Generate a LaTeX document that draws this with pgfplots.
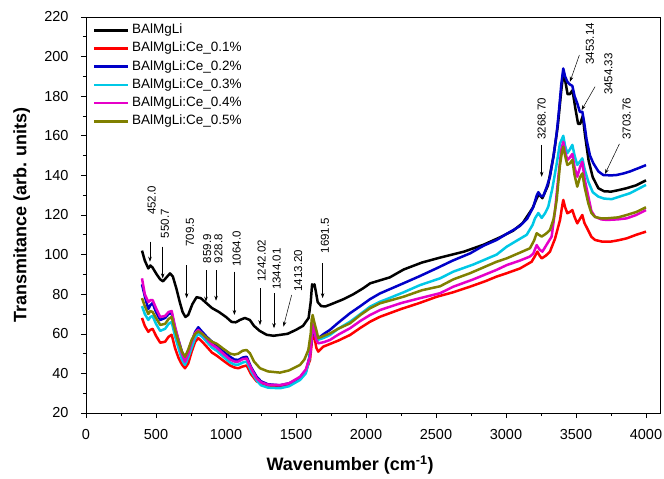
\documentclass[border=0pt]{standalone}
\usepackage{fontspec}
\setmainfont{Liberation Sans}
\usepackage{pgfplots}
\pgfplotsset{compat=1.18}
\usetikzlibrary{arrows.meta}
\definecolor{cblue}{RGB}{0,0,200}
\definecolor{ccyan}{RGB}{0,200,230}
\definecolor{cmag}{RGB}{230,0,200}
\definecolor{colive}{RGB}{128,128,0}
\definecolor{cred}{RGB}{255,0,0}
\begin{document}
\begin{tikzpicture}
\begin{axis}[
 scale only axis, width=574bp, height=396bp,
 xmin=0, xmax=4100, ymin=20, ymax=220,
 xtick={0,500,...,4000}, ytick={20,40,...,220},
 minor x tick num=1, minor y tick num=1,
 xtick pos=bottom, ytick pos=left,
 tick align=outside,
 major tick length=5bp, minor tick length=3bp,
 every tick/.style={black, line width=0.6bp},
 axis line style={line width=0.8bp},
 tick label style={font=\fontsize{14.5bp}{16bp}\selectfont},
 xticklabel style={yshift=-8bp},
 yticklabel style={xshift=-9bp},
 /pgf/number format/assume math mode=true,
 /pgf/number format/1000 sep={},
 xlabel={Wavenumber (cm\textsuperscript{-1})},
 ylabel={Transmitance (arb. units)},
 xlabel style={at={(axis description cs:0.46,-0.131)}, anchor=center, font=\bfseries\fontsize{18bp}{20bp}\selectfont},
 ylabel style={at={(axis description cs:-0.112,0.5)}, anchor=center, font=\bfseries\fontsize{18bp}{20bp}\selectfont},
 legend style={draw=none, fill=none, at={(axis description cs:0.012,0.99)}, anchor=north west,
   font=\fontsize{13.5bp}{16bp}\selectfont, row sep=0bp, inner sep=0bp,
   nodes={inner sep=2.6bp, text height=10bp, text depth=3bp}},
 legend cell align=left,
 legend image code/.code={\draw[#1, line width=2.5bp] (0bp,0bp) -- (34bp,0bp);},
 every axis plot/.append style={line width=2.5bp, line join=round},
]
% BAIMgLi
\addplot[black] coordinates {
(400,102) (420,97) (445,93) (460,94.5) (475,93.5) (505,90) (530,87.5) (550,86.5) (575,88.5) (600,90.5) (620,89) (645,83) (670,76) (690,71) (710,68.5) (730,69.5) (760,75) (790,78.5) (820,78) (860,75.5) (900,73) (950,71) (1000,68.5) (1040,66) (1070,65.8) (1100,67) (1135,68) (1170,67) (1200,64) (1240,61.5) (1290,59.5) (1340,59) (1390,59.5) (1440,60) (1500,62) (1550,64) (1590,68) (1605,76) (1615,85) (1625,84) (1632,85) (1640,82) (1655,76) (1680,74) (1710,73.8) (1760,75.2) (1840,77.5) (1910,80) (1980,83) (2030,85.5) (2100,87) (2170,88.5) (2270,92.5) (2400,96) (2530,98.5) (2700,101.5) (2840,105) (2950,108.5) (3050,112) (3120,116) (3190,123.5) (3220,128.5) (3235,130.5) (3260,128.5) (3300,135) (3340,150) (3370,165) (3395,183) (3410,192) (3425,187) (3440,181) (3455,181) (3475,183) (3495,174) (3515,166) (3530,166) (3548,170) (3565,160) (3590,147.5) (3620,139) (3660,133.5) (3700,132) (3750,131.8) (3800,132.5) (3860,133.5) (3930,135) (4000,137.5)
};
\addlegendentry{BAlMgLi}
% Ce 0.1
\addplot[cred] coordinates {
(400,68) (420,64) (445,61) (460,62) (476,62.5) (500,59) (530,55.5) (565,56) (590,58.5) (612,59.5) (635,53) (660,48) (685,44.5) (707,42.6) (730,45) (755,51) (780,56) (802,57.8) (830,56) (862,53.5) (900,50.5) (933,49) (980,46.5) (1029,44) (1060,43) (1088,42.6) (1120,43.5) (1148,44) (1180,39.5) (1219,36) (1250,35) (1300,33.8) (1386,33.3) (1450,34.2) (1529,37.5) (1570,41) (1600,46.8) (1612,55) (1619,61.1) (1630,59) (1645,53) (1659,51) (1680,52.5) (1695,53.5) (1800,56.5) (1886,59.4) (1960,63) (2029,66.1) (2100,68.6) (2250,72.5) (2380,75.5) (2505,78.7) (2624,81) (2743,83.8) (2850,86.5) (2933,88.9) (3005,90.6) (3100,93) (3183,96.4) (3205,99) (3224,101.5) (3240,99.5) (3255,98.1) (3285,99.5) (3314,101.5) (3350,108) (3386,117.5) (3400,124) (3409,127.6) (3422,124) (3438,120.9) (3455,121.5) (3474,122.5) (3490,119) (3509,115.8) (3528,118) (3545,120) (3560,116) (3586,112.4) (3610,109) (3636,107.4) (3690,106.5) (3743,106.5) (3800,107.2) (3862,108.2) (3930,110) (4000,111.6)
};
\addlegendentry{BAlMgLi:Ce\_0.1\%}
% Ce 0.2
\addplot[cblue] coordinates {
(400,85) (420,79) (445,72.5) (460,74.5) (476,75.5) (500,71) (530,67) (565,68) (590,70) (612,70.5) (635,63) (660,57) (685,51) (707,47.6) (730,51) (755,56) (780,61) (802,63.3) (830,61) (862,58.5) (900,56) (933,54.3) (980,51) (1029,48.4) (1060,47) (1088,46.8) (1120,48) (1148,48.4) (1180,43) (1219,38.3) (1250,36) (1300,34.5) (1386,34) (1450,35) (1529,37.5) (1570,41) (1595,48) (1610,56) (1619,62) (1630,61) (1645,58) (1659,57.8) (1700,60) (1743,62) (1800,65.5) (1886,70.4) (1960,74) (2029,77.5) (2100,80.4) (2267,85.5) (2380,89) (2505,93.1) (2620,97) (2743,100.6) (2840,104.5) (2933,107.4) (3005,110.5) (3052,112.4) (3100,114.5) (3150,118) (3195,124) (3220,130) (3231,131.5) (3250,129.5) (3266,129.5) (3290,134) (3314,139.3) (3340,150) (3362,161.3) (3380,174) (3395,186) (3409,194) (3422,190) (3438,187.3) (3455,186) (3474,185.2) (3490,180) (3509,176.4) (3528,172) (3545,172.2) (3560,166) (3576,157.9) (3600,150) (3624,146.1) (3660,142) (3695,140.2) (3750,140) (3790,140.2) (3840,141) (3886,142) (3940,143.5) (4000,145.2)
};
\addlegendentry{BAlMgLi:Ce\_0.2\%}
% Ce 0.3
\addplot[ccyan] coordinates {
(400,74) (420,70) (445,67) (460,68.5) (476,69) (500,65) (530,61.5) (565,62.5) (590,65) (612,66) (635,59) (660,53) (685,47) (707,44.3) (730,48) (755,53) (780,58) (802,60) (830,58.5) (862,56) (900,53) (933,51.5) (980,48.5) (1029,45.5) (1060,44.5) (1088,44.4) (1120,45.5) (1148,46) (1180,41) (1219,36.5) (1250,34) (1300,32.8) (1386,32.5) (1450,33.5) (1529,36.7) (1570,40) (1595,47) (1610,57) (1619,63) (1630,62) (1645,58) (1659,57) (1700,58) (1743,59.4) (1800,62.5) (1886,66.1) (1960,70) (2029,73.7) (2100,76.2) (2148,77.5) (2270,81) (2386,84.6) (2529,88) (2624,91.4) (2767,95) (2933,100) (3005,104) (3100,108) (3148,110) (3190,115) (3207,118.3) (3231,121) (3255,118.5) (3280,121) (3302,124.2) (3330,133) (3360,145) (3385,156) (3409,160) (3422,155) (3438,151.2) (3455,153) (3474,155.4) (3490,150) (3509,145.3) (3528,147) (3545,148.6) (3562,143) (3588,136.8) (3620,131.5) (3659,129.3) (3700,128.3) (3755,128) (3820,129.5) (3886,131) (3940,133) (4000,135.2)
};
\addlegendentry{BAlMgLi:Ce\_0.3\%}
% Ce 0.4
\addplot[cmag] coordinates {
(400,88) (420,80) (445,76) (460,77) (476,77) (500,73) (530,68.5) (565,69) (590,71) (612,71.5) (635,64) (660,57) (685,50) (707,45.9) (730,50) (755,56) (780,60.5) (802,62) (830,60) (862,57.5) (900,54.5) (933,53) (980,50) (1029,47) (1060,46) (1088,46) (1120,47.2) (1148,47.5) (1180,42.5) (1219,37.5) (1250,35.5) (1300,34.3) (1386,34.1) (1450,35) (1529,38.3) (1570,42) (1600,48.4) (1612,58) (1619,65) (1630,62) (1645,57) (1659,55.2) (1700,55.8) (1743,56.9) (1800,59.5) (1886,62.8) (1960,66.5) (2029,69.5) (2100,72) (2250,75.5) (2386,78) (2529,80.5) (2624,83.8) (2767,87.5) (2933,92.3) (3005,94.7) (3100,97) (3170,99) (3195,100.5) (3219,104.8) (3240,102.5) (3260,101.5) (3290,105) (3326,109.1) (3350,122) (3375,140) (3395,153) (3409,157) (3422,152) (3438,147.8) (3455,149) (3474,150.8) (3490,144) (3509,139.3) (3528,144) (3545,146.9) (3562,138) (3588,129.3) (3610,122) (3636,119.1) (3680,117.8) (3719,117.5) (3800,117.8) (3862,118.3) (3930,120) (4000,122.5)
};
\addlegendentry{BAlMgLi:Ce\_0.4\%}
% Ce 0.5
\addplot[colive] coordinates {
(400,78) (420,74) (445,70) (460,71.5) (476,71) (500,68) (530,64.5) (565,65) (590,67.5) (612,68.5) (635,62) (660,56) (685,51) (707,48.4) (730,52) (755,57) (780,60) (802,61.2) (830,60) (862,58) (900,56) (933,55) (980,52.5) (1029,50) (1060,49.5) (1088,50) (1120,51.5) (1148,51.8) (1171,50.2) (1200,46) (1243,42.6) (1300,41) (1386,40.4) (1450,41.5) (1529,44.3) (1560,47) (1588,51.8) (1605,60) (1612,67) (1619,69.5) (1630,66) (1648,61.1) (1659,57.8) (1700,59) (1743,60.2) (1800,62.5) (1886,65.3) (1960,69.5) (2029,72.9) (2100,75.4) (2267,78.7) (2400,82) (2529,84) (2624,87.5) (2743,90.6) (2933,96.4) (3005,98.1) (3100,101) (3171,103.2) (3200,107) (3219,110.8) (3235,110) (3255,109.1) (3285,110.5) (3314,112.4) (3340,118) (3362,127.6) (3385,145) (3400,152) (3409,154.5) (3422,150) (3438,145.3) (3455,146) (3474,147.8) (3490,140) (3509,134.3) (3528,139) (3545,141) (3562,134) (3588,125.9) (3610,121) (3636,119) (3680,118.3) (3719,118.3) (3800,118.8) (3862,120) (3930,121.5) (4000,123.9)
};
\addlegendentry{BAlMgLi:Ce\_0.5\%}
% annotations
\tikzset{ann/.style={-{Stealth[length=5bp,width=3.5bp]}, line width=0.5bp, black},
         lab/.style={rotate=90, anchor=west, inner sep=0pt, font=\fontsize{11.5bp}{12bp}\selectfont}}
\draw[ann] (axis cs:457,106.5) -- (axis cs:457,96.4);
\node[lab] at (axis cs:469,120) {452.0};
\draw[ann] (axis cs:548,104) -- (axis cs:548,88);
\node[lab] at (axis cs:564,108.2) {550.7};
\draw[ann] (axis cs:719,94.7) -- (axis cs:719,78);
\node[lab] at (axis cs:743,104) {709.5};
\draw[ann] (axis cs:857,92.2) -- (axis cs:857,76.2);
\node[lab] at (axis cs:865,95.6) {859.9};
\draw[ann] (axis cs:929,92.2) -- (axis cs:929,76.7);
\node[lab] at (axis cs:945,95.6) {928.8};
\draw[ann] (axis cs:1060,91.4) -- (axis cs:1060,69.5);
\node[lab] at (axis cs:1076,93.9) {1064.0};
\draw[ann] (axis cs:1243,83) -- (axis cs:1243,64.4);
\node[lab] at (axis cs:1255,86.3) {1242.02};
\draw[ann] (axis cs:1343,80.4) -- (axis cs:1343,62.8);
\node[lab] at (axis cs:1362,82.1) {1344.01};
\draw[ann] (axis cs:1469,79.6) -- (axis cs:1410,63.6);
\node[lab] at (axis cs:1516,81.3) {1413.20};
\draw[ann] (axis cs:1690,95.6) -- (axis cs:1690,78);
\node[lab] at (axis cs:1707,100.6) {1691.5};
\draw[ann] (axis cs:3255,155.4) -- (axis cs:3255,139.3);
\node[lab] at (axis cs:3255,157.9) {3268.70};
\draw[ann] (axis cs:3524,200.8) -- (axis cs:3457,187.3);
\node[lab] at (axis cs:3600,195.8) {3453.14};
\draw[ann] (axis cs:3636,184.8) -- (axis cs:3540,173);
\node[lab] at (axis cs:3731,180.6) {3454.33};
\draw[ann] (axis cs:3810,155.9) -- (axis cs:3707,140.7);
\node[lab] at (axis cs:3862,157.9) {3703.76};
\end{axis}
\pgfresetboundingbox
\path[use as bounding box] ([shift={(-86bp,-66bp)}]current axis.south west) rectangle ([shift={(4bp,17bp)}]current axis.north east);
\end{tikzpicture}
\end{document}
